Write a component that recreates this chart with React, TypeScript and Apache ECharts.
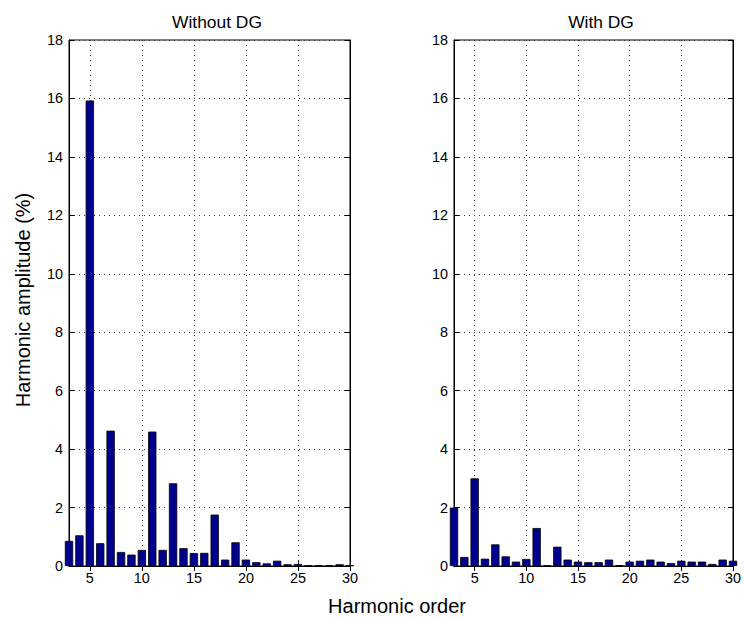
import React, { useEffect, useRef } from "react";
import * as echarts from "echarts";

// Harmonic orders shown on the x axis
const orders = [3, 4, 5, 6, 7, 8, 9, 10, 11, 12, 13, 14, 15, 16, 17, 18, 19, 20, 21, 22, 23, 24, 25, 26, 27, 28, 29, 30];

// Harmonic amplitudes (%) per order
const withoutDG = [0.86, 1.05, 15.93, 0.78, 4.63, 0.48, 0.39, 0.55, 4.6, 0.55, 2.83, 0.61, 0.44, 0.45, 1.76, 0.22, 0.81, 0.22, 0.13, 0.09, 0.18, 0.06, 0.07, 0.02, 0.02, 0.02, 0.06, 0.02];
const withDG = [2.0, 0.31, 3.0, 0.25, 0.74, 0.33, 0.15, 0.24, 1.3, 0.02, 0.66, 0.22, 0.15, 0.13, 0.13, 0.22, 0.03, 0.15, 0.18, 0.22, 0.15, 0.1, 0.18, 0.15, 0.15, 0.07, 0.22, 0.18];

const xTicks = [5, 10, 15, 20, 25, 30];
const panelTitles = ["Without DG", "With DG"];
const yLabel = "Harmonic amplitude (%)";
const xLabel = "Harmonic order";

const FONT = "'Liberation Sans', Arial, Helvetica, sans-serif";
const BAR_COLOR = "#00008F";

const grids = [
  { left: 69, top: 40, width: 281, height: 526 },
  { left: 454, top: 40, width: 281, height: 526 },
];

export default function App() {
  const ref = useRef<HTMLDivElement>(null);

  useEffect(() => {
    if (!ref.current) return;
    const chart = echarts.init(ref.current, undefined, { renderer: "svg" });

    const gridLine = { show: true, lineStyle: { color: "#333", type: [1, 4] as any, width: 1 } };
    const axisLine = { show: true, lineStyle: { color: "#000", width: 1 } };
    const tickIn = { show: true, inside: true, length: 5, lineStyle: { color: "#000" } };

    const xAxes: any[] = [];
    const yAxes: any[] = [];
    grids.forEach((_, i) => {
      xAxes.push({
        type: "value",
        gridIndex: i,
        min: 3,
        max: 30,
        position: "bottom",
        axisLine,
        axisTick: { ...tickIn, customValues: xTicks },
        axisLabel: { customValues: xTicks, color: "#000", fontSize: 14.4, fontFamily: FONT, margin: 5 },
        splitLine: gridLine,
      });
      xAxes.push({
        type: "value",
        gridIndex: i,
        min: 3,
        max: 30,
        position: "top",
        axisLine,
        axisTick: { ...tickIn, customValues: xTicks },
        axisLabel: { show: false },
        splitLine: { show: false },
      });
      yAxes.push({
        type: "value",
        gridIndex: i,
        min: 0,
        max: 18,
        interval: 2,
        position: "left",
        axisLine,
        axisTick: tickIn,
        axisLabel: { color: "#000", fontSize: 14.4, fontFamily: FONT, margin: 6 },
        splitLine: gridLine,
      });
      yAxes.push({
        type: "value",
        gridIndex: i,
        min: 0,
        max: 18,
        interval: 2,
        position: "right",
        axisLine,
        axisTick: tickIn,
        axisLabel: { show: false },
        splitLine: { show: false },
      });
    });

    const makeSeries = (values: number[], i: number) => ({
      type: "bar",
      xAxisIndex: i * 2,
      yAxisIndex: i * 2,
      barWidth: 8.3,
      clip: true,
      data: orders.map((o, k) => [o, values[k]]),
      itemStyle: { color: BAR_COLOR, borderColor: "#000", borderWidth: 0.8 },
    });

    chart.setOption({
      animation: false,
      backgroundColor: "#fff",
      grid: grids.map((g) => ({ ...g, show: true, borderColor: "#000", borderWidth: 1, backgroundColor: "#fff" })),
      xAxis: xAxes,
      yAxis: yAxes,
      title: [
        {
          text: panelTitles[0],
          left: 212,
          top: 8,
          textAlign: "center",
          textStyle: { fontSize: 17.4, fontWeight: "normal", color: "#000", fontFamily: FONT },
        },
        {
          text: panelTitles[1],
          left: 596,
          top: 8,
          textAlign: "center",
          textStyle: { fontSize: 17.4, fontWeight: "normal", color: "#000", fontFamily: FONT },
        },
      ],
      graphic: [
        {
          type: "text",
          x: 23,
          y: 300,
          rotation: Math.PI / 2,
          style: {
            text: yLabel,
            fill: "#000",
            font: `20px ${FONT}`,
            align: "center",
            verticalAlign: "middle",
          },
        },
        {
          type: "text",
          x: 397,
          y: 606,
          style: {
            text: xLabel,
            fill: "#000",
            font: `20px ${FONT}`,
            align: "center",
            verticalAlign: "middle",
          },
        },
      ],
      series: [makeSeries(withoutDG, 0), makeSeries(withDG, 1)],
    });

    return () => chart.dispose();
  }, []);

  return (
    <div
      ref={ref}
      style={{ position: "absolute", left: 0, top: 0, width: 744, height: 619, background: "#fff" }}
    />
  );
}
